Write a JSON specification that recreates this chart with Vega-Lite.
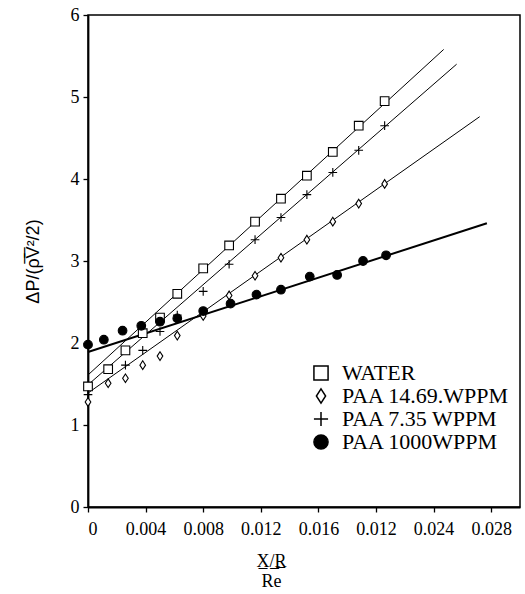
{
  "$schema": "https://vega.github.io/schema/vega-lite/v6.json",
  "width": 432,
  "height": 492,
  "autosize": "none",
  "padding": {"left": 88, "top": 15, "right": 5, "bottom": 87},
  "background": "white",
  "datasets": {
    "points": [
      {"x": 0, "y": 1.47, "series": "WATER"},
      {"x": 0.0014, "y": 1.68, "series": "WATER"},
      {"x": 0.0026, "y": 1.91, "series": "WATER"},
      {"x": 0.0038, "y": 2.12, "series": "WATER"},
      {"x": 0.005, "y": 2.31, "series": "WATER"},
      {"x": 0.0062, "y": 2.6, "series": "WATER"},
      {"x": 0.008, "y": 2.91, "series": "WATER"},
      {"x": 0.0098, "y": 3.19, "series": "WATER"},
      {"x": 0.0116, "y": 3.48, "series": "WATER"},
      {"x": 0.0134, "y": 3.76, "series": "WATER"},
      {"x": 0.0152, "y": 4.04, "series": "WATER"},
      {"x": 0.017, "y": 4.33, "series": "WATER"},
      {"x": 0.0188, "y": 4.65, "series": "WATER"},
      {"x": 0.0206, "y": 4.95, "series": "WATER"},
      {"x": 0, "y": 1.28, "series": "PAA 14.69.WPPM"},
      {"x": 0.0014, "y": 1.51, "series": "PAA 14.69.WPPM"},
      {"x": 0.0026, "y": 1.57, "series": "PAA 14.69.WPPM"},
      {"x": 0.0038, "y": 1.73, "series": "PAA 14.69.WPPM"},
      {"x": 0.005, "y": 1.84, "series": "PAA 14.69.WPPM"},
      {"x": 0.0062, "y": 2.09, "series": "PAA 14.69.WPPM"},
      {"x": 0.008, "y": 2.33, "series": "PAA 14.69.WPPM"},
      {"x": 0.0098, "y": 2.58, "series": "PAA 14.69.WPPM"},
      {"x": 0.0116, "y": 2.82, "series": "PAA 14.69.WPPM"},
      {"x": 0.0134, "y": 3.04, "series": "PAA 14.69.WPPM"},
      {"x": 0.0152, "y": 3.26, "series": "PAA 14.69.WPPM"},
      {"x": 0.017, "y": 3.48, "series": "PAA 14.69.WPPM"},
      {"x": 0.0188, "y": 3.7, "series": "PAA 14.69.WPPM"},
      {"x": 0.0206, "y": 3.94, "series": "PAA 14.69.WPPM"},
      {"x": 0, "y": 1.37, "series": "PAA 7.35 WPPM"},
      {"x": 0.0026, "y": 1.73, "series": "PAA 7.35 WPPM"},
      {"x": 0.0038, "y": 1.91, "series": "PAA 7.35 WPPM"},
      {"x": 0.005, "y": 2.14, "series": "PAA 7.35 WPPM"},
      {"x": 0.0062, "y": 2.34, "series": "PAA 7.35 WPPM"},
      {"x": 0.008, "y": 2.63, "series": "PAA 7.35 WPPM"},
      {"x": 0.0098, "y": 2.96, "series": "PAA 7.35 WPPM"},
      {"x": 0.0116, "y": 3.26, "series": "PAA 7.35 WPPM"},
      {"x": 0.0134, "y": 3.53, "series": "PAA 7.35 WPPM"},
      {"x": 0.0152, "y": 3.81, "series": "PAA 7.35 WPPM"},
      {"x": 0.017, "y": 4.08, "series": "PAA 7.35 WPPM"},
      {"x": 0.0188, "y": 4.35, "series": "PAA 7.35 WPPM"},
      {"x": 0.0206, "y": 4.65, "series": "PAA 7.35 WPPM"},
      {"x": 0, "y": 1.98, "series": "PAA 1000WPPM"},
      {"x": 0.0011, "y": 2.04, "series": "PAA 1000WPPM"},
      {"x": 0.0024, "y": 2.15, "series": "PAA 1000WPPM"},
      {"x": 0.0037, "y": 2.21, "series": "PAA 1000WPPM"},
      {"x": 0.005, "y": 2.26, "series": "PAA 1000WPPM"},
      {"x": 0.0062, "y": 2.3, "series": "PAA 1000WPPM"},
      {"x": 0.008, "y": 2.39, "series": "PAA 1000WPPM"},
      {"x": 0.0099, "y": 2.48, "series": "PAA 1000WPPM"},
      {"x": 0.0117, "y": 2.59, "series": "PAA 1000WPPM"},
      {"x": 0.0134, "y": 2.65, "series": "PAA 1000WPPM"},
      {"x": 0.0154, "y": 2.81, "series": "PAA 1000WPPM"},
      {"x": 0.0173, "y": 2.83, "series": "PAA 1000WPPM"},
      {"x": 0.0191, "y": 3.0, "series": "PAA 1000WPPM"},
      {"x": 0.0207, "y": 3.07, "series": "PAA 1000WPPM"}
    ],
    "fits": [
      {"x": 0, "y": 1.61, "series": "WATER"},
      {"x": 0.0247, "y": 5.58, "series": "WATER"},
      {"x": 0, "y": 1.39, "series": "PAA 14.69.WPPM"},
      {"x": 0.0272, "y": 4.76, "series": "PAA 14.69.WPPM"},
      {"x": 0, "y": 1.49, "series": "PAA 7.35 WPPM"},
      {"x": 0.0256, "y": 5.4, "series": "PAA 7.35 WPPM"},
      {"x": 0, "y": 1.89, "series": "PAA 1000WPPM"},
      {"x": 0.0277, "y": 3.46, "series": "PAA 1000WPPM"}
    ]
  },
  "config": {
    "view": {"stroke": "black", "strokeWidth": 1.5},
    "axis": {
      "grid": false,
      "domainColor": "black",
      "domainWidth": 1.8,
      "tickColor": "black",
      "tickWidth": 1.3,
      "tickSize": 5,
      "labelColor": "black",
      "labelFont": "Liberation Serif",
      "labelFontSize": 18,
      "titleColor": "black",
      "titleFontWeight": "normal"
    },
    "legend": {
      "orient": "none",
      "legendX": 222,
      "legendY": 347,
      "labelFont": "Liberation Serif",
      "labelFontSize": 22,
      "labelColor": "black",
      "symbolSize": 200,
      "rowPadding": 1,
      "labelOffset": 10,
      "labelLimit": 300
    }
  },
  "layer": [
    {
      "data": {"name": "fits"},
      "transform": [{"filter": "datum.series != 'PAA 1000WPPM'"}],
      "mark": {"type": "line", "color": "black", "strokeWidth": 1},
      "encoding": {
        "x": {"field": "x", "type": "quantitative", "scale": {"domain": [0, 0.03], "nice": false}},
        "y": {"field": "y", "type": "quantitative", "scale": {"domain": [0, 6], "nice": false}},
        "detail": {"field": "series"}
      }
    },
    {
      "data": {"name": "fits"},
      "transform": [{"filter": "datum.series == 'PAA 1000WPPM'"}],
      "mark": {"type": "line", "color": "black", "strokeWidth": 2},
      "encoding": {
        "x": {"field": "x", "type": "quantitative"},
        "y": {"field": "y", "type": "quantitative"}
      }
    },
    {
      "data": {"name": "points"},
      "mark": {"type": "point", "filled": true, "strokeWidth": 1.1, "opacity": 1, "size": 75},
      "encoding": {
        "x": {
          "field": "x",
          "type": "quantitative",
          "scale": {"domain": [0, 0.03], "nice": false},
          "axis": {
            "values": [0, 0.002, 0.004, 0.006, 0.008, 0.01, 0.012, 0.014, 0.016, 0.018, 0.02, 0.022, 0.024, 0.026, 0.028],
            "labelExpr": "round(datum.value*1000) % 4 != 0 ? '' : (datum.value == 0 ? '0' : (round(datum.value*1000) == 20 ? '0.012' : format(datum.value, '.3f')))",
            "labelPadding": 8,
            "title": ["X̲/̲R̲", "Re"],
            "titleFont": "Liberation Serif",
            "titleFontSize": 18,
            "titleX": 183,
            "titleY": 45,
            "titleAlign": "center",
            "titleBaseline": "top",
            "titleLineHeight": 20
          }
        },
        "y": {
          "field": "y",
          "type": "quantitative",
          "scale": {"domain": [0, 6], "nice": false},
          "axis": {
            "values": [0, 1, 2, 3, 4, 5, 6],
            "format": "d",
            "labelPadding": 4,
            "title": "ΔP/(ρ̅V̅²/2)",
            "titleFont": "Liberation Sans",
            "titleFontSize": 18,
            "titleX": -55,
            "titleY": 246,
            "titleAlign": "center",
            "titleBaseline": "middle",
            "titleAngle": -90
          }
        },
        "stroke": {"value": "black"},
        "shape": {
          "field": "series",
          "type": "nominal",
          "scale": {
            "domain": ["WATER", "PAA 14.69.WPPM", "PAA 7.35 WPPM", "PAA 1000WPPM"],
            "range": ["square", "M0,-1L0.65,0L0,1L-0.65,0Z", "M-1,0L1,0M0,-1L0,1", "circle"]
          },
          "legend": {
            "title": null,
            "encode": {"symbols": {"update": {"stroke": {"value": "black"}, "strokeWidth": {"value": 1.2}}}}
          }
        },
        "fill": {
          "field": "series",
          "type": "nominal",
          "scale": {
            "domain": ["WATER", "PAA 14.69.WPPM", "PAA 7.35 WPPM", "PAA 1000WPPM"],
            "range": ["white", "white", "white", "black"]
          },
          "legend": {
            "title": null,
            "encode": {"symbols": {"update": {"stroke": {"value": "black"}, "strokeWidth": {"value": 1.2}}}}
          }
        }
      }
    }
  ]
}
